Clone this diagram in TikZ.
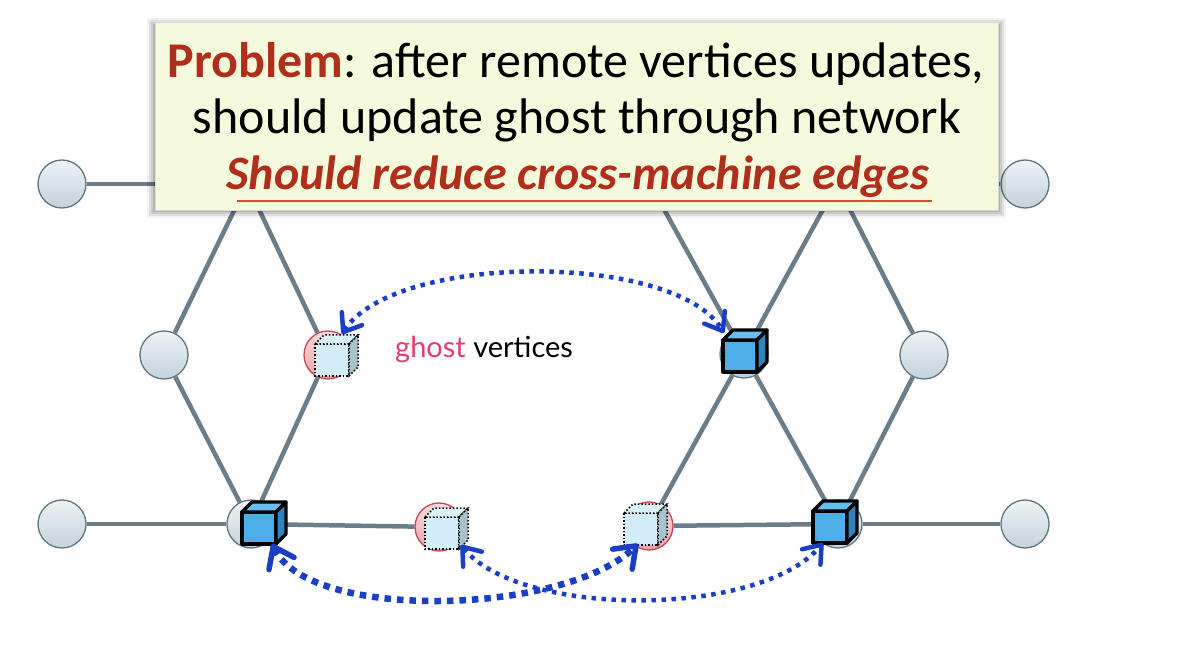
\documentclass[tikz,border=0pt]{standalone}
\usepackage{fontspec}
\setmainfont{Carlito}
\newfontfamily\latofont{Lato}
\usetikzlibrary{arrows.meta}
\definecolor{edgec}{HTML}{6B7D88}
\definecolor{vborder}{HTML}{5F7682}
\definecolor{vtop}{HTML}{EEF3F6}
\definecolor{vbot}{HTML}{C3D2DA}
\definecolor{gborder}{HTML}{C24A52}
\definecolor{gtop}{HTML}{FADCDC}
\definecolor{gbot}{HTML}{E9A3A8}
\definecolor{cfront}{HTML}{4DAEE8}
\definecolor{ctop}{HTML}{66BFEF}
\definecolor{cside}{HTML}{2C85BF}
\definecolor{gfront}{HTML}{D3ECFA}
\definecolor{gtopc}{HTML}{DDF1FB}
\definecolor{gside}{HTML}{A8C2CB}
\definecolor{arrowc}{HTML}{1B3EC6}
\definecolor{boxfill}{HTML}{F6FADC}
\definecolor{probred}{HTML}{B02E1C}
\definecolor{ulred}{HTML}{E8462A}
\definecolor{ghostpink}{HTML}{E23F6D}
\tikzset{
  vtx/.style={circle, minimum size=48pt, inner sep=0pt, draw=vborder, line width=1.3pt, top color=vtop, bottom color=vbot},
  gvtx/.style={circle, minimum size=48pt, inner sep=0pt, draw=gborder, line width=1.3pt, top color=gtop, bottom color=gbot},
  edge/.style={draw=edgec, line width=4.5pt},
  realcube/.pic={
    \filldraw[fill=cfront, draw=black, line width=3.2pt, line join=round] (-17,-16) rectangle (17,16);
    \filldraw[fill=ctop, draw=black, line width=3.2pt, line join=round] (-17,-16) -- (-7,-26) -- (27,-26) -- (17,-16) -- cycle;
    \filldraw[fill=cside, draw=black, line width=3.2pt, line join=round] (17,-16) -- (27,-26) -- (27,6) -- (17,16) -- cycle;
  },
  ghostcube/.pic={
    \filldraw[fill=gfront, draw=black, line width=1.5pt, dotted] (-17,-16) rectangle (17,16);
    \filldraw[fill=gtopc, draw=black, line width=1.5pt, dotted] (-17,-16) -- (-8,-25) -- (26,-25) -- (17,-16) -- cycle;
    \filldraw[fill=gside, draw=black, line width=1.5pt, dotted] (17,-16) -- (26,-25) -- (26,7) -- (17,16) -- cycle;
  },
  tipv/.tip={Straight Barb[length=16pt,width=24pt,line width=4.5pt,round]},
  tipw/.tip={Straight Barb[length=19pt,width=28pt,line width=5.5pt,round]},
  link/.style={draw=arrowc, line cap=butt, tipv-tipv},
  biglink/.style={draw=arrowc, line cap=butt, tipw-tipw},
}
\begin{document}
\begin{tikzpicture}[x=1pt,y=-1pt]
\useasboundingbox (0,0) rectangle (1184,652);
\fill[white] (0,0) rectangle (1184,652);
% vertices
\node[vtx] (a1) at (62,184) {};
\node[vtx] (a2) at (247,184) {};
\node[vtx] (a3) at (440,184) {};
\node[vtx] (a4) at (650,184) {};
\node[vtx] (a5) at (837,184) {};
\node[vtx] (a6) at (1025,184) {};
\node[vtx] (b1) at (164,355) {};
\node[gvtx] (b2) at (328,355) {};
\node[vtx] (b3) at (744,354) {};
\node[vtx] (b4) at (924,355) {};
\node[vtx] (c1) at (62,524) {};
\node[vtx] (c2) at (251,524) {};
\node[gvtx] (c3) at (439,527) {};
\node[gvtx] (c4) at (649,526) {};
\node[vtx] (c5) at (838,524) {};
\node[vtx] (c6) at (1025,524) {};
% edges
\draw[edge] (a1) -- (a2);
\draw[edge] (a5) -- (a6);
\draw[edge] (a2) -- (b1);
\draw[edge] (a2) -- (b2);
\draw[edge] (a4) -- (b3);
\draw[edge] (a5) -- (b3);
\draw[edge] (a5) -- (b4);
\draw[edge] (b1) -- (c2);
\draw[edge] (b2) -- (c2);
\draw[edge] (b3) -- (c4);
\draw[edge] (b3) -- (c5);
\draw[edge] (b4) -- (c5);
\draw[edge] (c1) -- (c2);
\draw[edge] (c2) -- (c3);
\draw[edge] (c4) -- (c5);
\draw[edge] (c5) -- (c6);
% cubes
\pic at (332,360) {ghostcube};
\pic at (740,356) {realcube};
\pic at (259,528) {realcube};
\pic at (442,533) {ghostcube};
\pic at (641,529) {ghostcube};
\pic at (830,527) {realcube};
% arrow end points
\coordinate (t1) at (342,334);
\coordinate (t2) at (724,333);
\coordinate (u1) at (272,544);
\coordinate (u2) at (638,544);
\coordinate (v1) at (461,545);
\coordinate (v2) at (823,543);
\draw[link, line width=4.5pt, dash pattern=on 4.5pt off 5.5pt] (t1) .. controls (395,252) and (675,252) .. (t2);
\draw[biglink, line width=6.5pt, dash pattern=on 6.5pt off 6pt] (u1) .. controls (310,622) and (565,615) .. (u2);
\draw[link, line width=4.5pt, dash pattern=on 4.5pt off 5.5pt] (v1) .. controls (520,618) and (760,618) .. (v2);
% ghost label
\node[anchor=base west, font=\latofont\fontsize{29}{34}\selectfont, inner sep=0pt] (lbl) at (395,358) {\textcolor{ghostpink}{ghost} vertices};
% problem box
\foreach \s/\o in {8/0.05,6/0.07,4/0.09,2/0.12}{
  \fill[black, opacity=\o] (155-\s,22-\s+4) rectangle (998+\s,210+\s);
}
\node[draw=black!15, line width=0.6pt, fill=boxfill, minimum width=843pt, minimum height=188pt, inner sep=0pt, anchor=north west] (box) at (155,22) {};
\node[anchor=base, font=\fontsize{50}{56}\selectfont, inner sep=0pt] (l1) at (576,78) {\textcolor{probred}{\bfseries Problem}: after remote vertices updates,};
\node[anchor=base, font=\fontsize{50}{56}\selectfont, inner sep=0pt] (l2) at (577,134) {should update ghost through network};
\node[anchor=base, font=\fontsize{48}{54}\selectfont\bfseries\itshape, text=probred, inner sep=0pt] (l3) at (578,190) {Should reduce cross-machine edges};
\draw[ulred, line width=2.6pt] (237,201) -- (932,201);
% page number fragment
\node[anchor=base, text=gray, font=\fontsize{22}{26}\selectfont, inner sep=0pt] (pg) at (1189,612) {6};
\end{tikzpicture}
\end{document}
